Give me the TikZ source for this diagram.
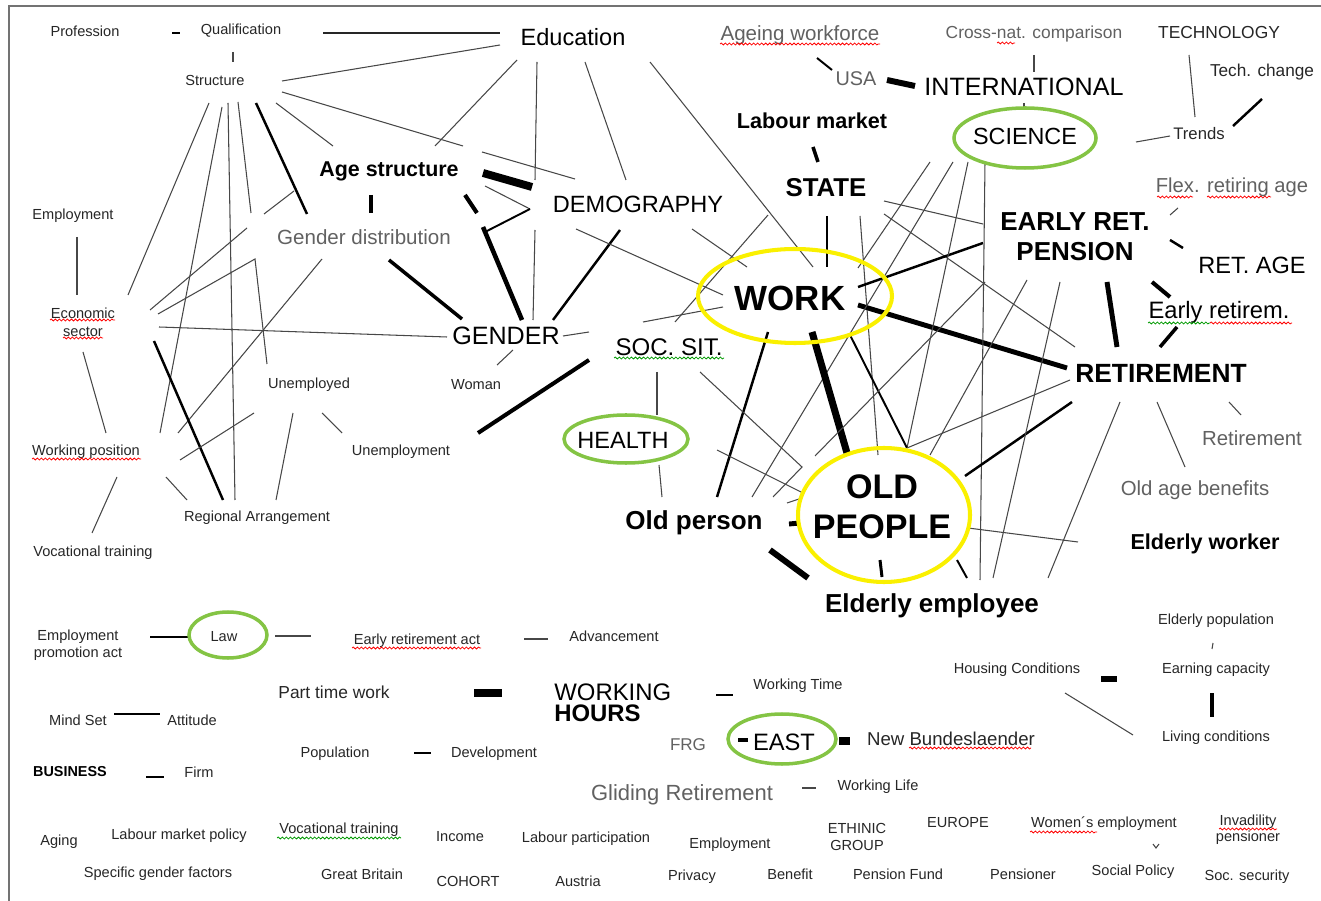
\documentclass[tikz,border=0pt]{standalone}
\usepackage{fontspec}
\setmainfont{Liberation Sans}
\usetikzlibrary{decorations.pathmorphing}
\definecolor{amarillo}{RGB}{250,240,0}
\definecolor{verde}{RGB}{132,196,68}
\tikzset{
  lbl/.style={font=\fontsize{#1}{#1}\selectfont, inner sep=0pt, text=black!85},
  lbln/.style={font=\fontsize{#1}{#1}\selectfont, inner sep=0pt, text=black},
  lblg/.style={font=\fontsize{#1}{#1}\selectfont, inner sep=0pt, text=black!62},
  lblb/.style={font=\fontsize{#1}{#1}\selectfont\bfseries, inner sep=0pt, text=black},
  raya/.style={line width=0.6pt, draw=black!72},
  barra/.style={line width=#1, draw=black},
  aroam/.style={draw=amarillo, line width=2.3pt},
  arove/.style={draw=verde, line width=2pt},
  onda/.style={draw=#1, line width=0.45pt, decorate,
    decoration={snake, amplitude=0.55pt, segment length=2.3pt}}
}
\begin{document}
\begin{tikzpicture}[x=0.02cm, y=-0.02cm]
	\useasboundingbox (0,0) rectangle (1321,901);
	% marco
	\draw[black!55, line width=0.9pt] (9,901) -- (9,6) -- (1321,6);

	% lineas de Structure y Education
	\draw[barra=1.1pt] (172,33) -- (180,33);
	\draw[raya, black!85] (323,33) -- (500,33);
	\draw[raya] (233,52) -- (233,62);
	\draw[raya] (282,81) -- (500,45);
	\draw[raya] (517,60) -- (435,146);
	\draw[raya] (282,92) -- (463,146);
	\draw[raya] (482,152) -- (575,179);
	\draw[raya] (209,103) -- (128,295);
	\draw[raya] (222,107) -- (160,433);
	\draw[raya] (228,103) -- (235,500);
	\draw[raya] (238,102) -- (251,213);
	\draw[raya] (158,314) -- (255,259) -- (267,364);
	\draw[barra=1.4pt] (256,103) -- (307,214);
	\draw[raya] (276,103) -- (333,146);
	\draw[raya] (264,214) -- (294,191);
	\draw[raya] (247,228) -- (150,310);
	\draw[raya] (322,259) -- (178,433);
	\draw[raya] (159,327) -- (447,337);
	\draw[barra=1.4pt] (154,341) -- (223,500);
	\draw[raya] (180,460) -- (254,413);
	\draw[raya] (166,477) -- (187,500);
	\draw[raya] (293,413) -- (276,500);
	\draw[raya] (322,413) -- (342,433);
	\draw[raya] (77,237) -- (77,295); % Employment
	\draw[raya] (83,352) -- (106,433);
	\draw[raya] (117,477) -- (92,533);

	% GENDER, Age structure, DEMOGRAPHY
	\draw[raya] (513,350) -- (497,365);
	\draw[raya] (563,336) -- (589,332);
	\draw[barra=2.3pt] (478,433) -- (589,360);
	\draw[barra=2pt] (389,260) -- (462,319);
	\draw[barra=2.3pt] (371,195) -- (371,213);
	\draw[barra=2.3pt] (465,195) -- (477,213);
	\draw[barra=2.6pt] (483,227) -- (522,320);
	\draw[barra=4.5pt] (483,173) -- (532,187);
	\draw[raya] (485,186) -- (530,209);
	\draw[barra=1.1pt] (530,209) -- (485,232);
	\draw[raya] (537,62) -- (535,180);
	\draw[raya] (535,230) -- (533,320);
	\draw[raya] (585,62) -- (626,180);
	\draw[raya] (650,62) -- (813,267);
	\draw[barra=1.4pt] (620,230) -- (553,320);
	\draw[raya] (576,229) -- (723,295);
	\draw[raya] (692,229) -- (747,267);
	\draw[raya] (768,215) -- (675,322);
	\draw[raya] (643,322) -- (723,307);

	% WORK, STATE, SCIENCE
	\draw[barra=2pt] (813,147) -- (818,162);
	\draw[barra=1.4pt] (827,216) -- (827,267);
	\draw[raya] (860,216) -- (878,455);
	\draw[raya] (884,201) -- (983,224);
	\draw[raya] (884,214) -- (1075,347);
	\draw[barra=1.4pt] (858,287) -- (983,243);
	\draw[barra=2.8pt] (858,305) -- (1067,368);
	\draw[raya] (930,162) -- (858,268);
	\draw[raya] (953,162) -- (752,497);
	\draw[raya] (968,162) -- (907,448);
	\draw[raya] (985,162) -- (980,580);
	\draw[barra=1.4pt] (768,332) -- (717,497);
	\draw[barra=4pt] (812,332) -- (847,453);
	\draw[barra=1.1pt] (850,335) -- (907,448);
	\draw[raya] (907,448) -- (1070,380);
	\draw[barra=1.4pt] (965,476) -- (1072,402);
	\draw[raya] (968,528) -- (1078,542);
	\draw[barra=1.7pt] (880,560) -- (882,577);
	\draw[barra=1.1pt] (957,560) -- (967,578);
	\draw[raya] (1060,282) -- (993,578);
	\draw[raya] (1120,402) -- (1048,578);
	\draw[raya] (1027,280) -- (930,455);
	\draw[raya] (815,456) -- (985,282);
	\draw[raya] (700,372) -- (802,467) -- (773,497);
	\draw[raya] (717,450) -- (803,493);
	\draw[raya] (787,503) -- (802,498);

	% HEALTH y Old person
	\draw[raya] (657,372) -- (657,415);
	\draw[raya] (659,465) -- (662,497);
	\draw[barra=2.8pt] (789,524) -- (800,523);
	\draw[barra=3.4pt] (770,550) -- (808,578);

	% RETIREMENT y EARLY RET.
	\draw[barra=2.8pt] (1107,282) -- (1117,347);
	\draw[barra=2.3pt] (1152,282) -- (1170,297);
	\draw[barra=2pt] (1177,327) -- (1160,347);
	\draw[raya] (1170,215) -- (1178,208);
	\draw[barra=1.4pt] (1170,240) -- (1183,248);
	\draw[raya] (1157,402) -- (1185,467);
	\draw[raya] (1229,402) -- (1241,415);

	% INTERNATIONAL y TECHNOLOGY
	\draw[raya] (1024,103) -- (1024,110);
	\draw[raya] (1034,55) -- (1034,72);
	\draw[raya] (1189,55) -- (1195,117);
	\draw[barra=1.4pt] (1262,99) -- (1233,126);
	\draw[raya] (1136,142) -- (1170,136);
	\draw[barra=3.4pt] (887,80) -- (915,86);
	\draw[barra=1.1pt] (817,58) -- (832,70);

	% parte de abajo
	\draw[barra=1.4pt] (150,637) -- (189,637);
	\draw[raya] (275,636) -- (311,636);
	\draw[raya] (524,639) -- (548,639);
	\draw[barra=4.5pt] (474,693) -- (502,693);
	\draw[barra=1.1pt] (114,714) -- (160,714);
	\draw[barra=1.7pt] (414,753) -- (431,753);
	\draw[barra=1.7pt] (146,777) -- (164,777);
	\draw[barra=1.4pt] (716,695) -- (733,695);
	\draw[barra=2.8pt] (738,740) -- (748,740);
	\draw[barra=4pt] (839,741) -- (850,741);
	\draw[raya] (802,788) -- (816,788);
	\draw[barra=3.4pt] (1101,679) -- (1117,679);
	\draw[raya] (1065,693) -- (1133,735);
	\draw[raya] (1213,643) -- (1212,649);
	\draw[barra=2.3pt] (1212,693) -- (1212,717);
	\draw[raya] (1153,844) -- (1156,848) -- (1159,844);

	% elipses
	\draw[aroam] (795,296) ellipse [x radius=97, y radius=47]; % WORK
	\draw[aroam] (884,515) ellipse [x radius=86, y radius=67]; % OLD PEOPLE
	\draw[arove] (1025,138) ellipse [x radius=71, y radius=30]; % SCIENCE
	\draw[arove] (626,439) ellipse [x radius=62, y radius=24]; % HEALTH
	\draw[arove] (228,635) ellipse [x radius=39, y radius=23]; % Law
	\draw[arove] (782,739) ellipse [x radius=54, y radius=25]; % EAST

	% textos de arriba
	\node[lbl=8.3] (profession) at (85,31) {Profession};
	\node[lbl=8.3] (qualification) at (241,31) {Qualification};
	\node[lbln=13.4] (education) at (573,37) {Education};
	\node[lblg=11.7] (ageing) at (800,35) {Ageing workforce};
	\node[lblg=9.9] (crossnat) at (1034,34) {Cross-nat. comparison};
	\node[lbl=9.9] (technology) at (1219,33) {TECHNOLOGY};
	\node[lbl=8.3] (structure) at (215,80) {Structure};
	\node[lblg=11.3] (usa) at (856,79) {USA};
	\node[lbln=14.3] (international) at (1024,87) {INTERNATIONAL};
	\node[lbl=9.8] (techchange) at (1262,72) {Tech. change};
	\node[lblb=12.3] (labour) at (812,121) {Labour market};
	\node[lbln=13.3] (science) at (1025,136) {SCIENCE};
	\node[lbl=9.5] (trends) at (1199,134) {Trends};
	\node[lblb=12.2] (agestruct) at (389,171) {Age structure};
	\node[lblb=14.7] (state) at (826,188) {STATE};
	\node[lblg=11.5] (flex) at (1232,187) {Flex. retiring age};
	\node[lbln=13.4] (demography) at (638,204) {DEMOGRAPHY};
	\node[lbl=8.3] (employment) at (73,216) {Employment};
	\node[lblg=11.7] (genderdist) at (364,237) {Gender distribution};
	\node[lblb=14.8, font=\fontsize{14.8}{17}\selectfont\bfseries, align=center] (earlyret) at (1075,237) {EARLY RET.\\PENSION};
	\node[lbln=13.4] (retage) at (1252,265) {RET. AGE};

	% textos del centro
	\node[lblb=19.9] (work) at (790,298) {WORK};
	\node[lbl=8.3, font=\fontsize{8.3}{10.2}\selectfont, align=center] (econsector) at (83,322) {Economic\\sector};
	\node[lbln=13.5] (earlyretirem) at (1219,312) {Early retirem.};
	\node[lbln=14.3] (gender) at (506,336) {GENDER};
	\node[lbln=13.7] (socsit) at (669,347) {SOC. SIT.};
	\node[lblb=15] (retirement) at (1161,373) {RETIREMENT};
	\node[lbl=8.3] (unemployed) at (309,385) {Unemployed};
	\node[lbl=8.3] (woman) at (476,385) {Woman};
	\node[lblg=11.6] (retirementsm) at (1252,438) {Retirement};
	\node[lbln=13.4] (health) at (623,440) {HEALTH};
	\node[lbl=8.3] (workpos) at (86,452) {Working position};
	\node[lbl=8.3] (unemployment) at (401,452) {Unemployment};
	\node[lblb=19.4, font=\fontsize{19.4}{22.7}\selectfont\bfseries, align=center] (oldpeople) at (882,507) {OLD\\PEOPLE};
	\node[lblg=11.6] (oldage) at (1195,490) {Old age benefits};
	\node[lblb=14.8] (oldperson) at (694,523) {Old person};
	\node[lbl=8.3] (regional) at (257,518) {Regional Arrangement};
	\node[lblb=12.3] (elderlyworker) at (1205,544) {Elderly worker};
	\node[lbl=8.3] (voctrain) at (93,553) {Vocational training};
	\node[lblb=14.8] (elderlyemp) at (932,606) {Elderly employee};

	% textos de abajo
	\node[lbl=8.3] (elderlypop) at (1216,621) {Elderly population};
	\node[lbl=8.3, font=\fontsize{8.3}{9.6}\selectfont, align=center] (emppromo) at (78,645) {Employment\\promotion act};
	\node[lbl=8.3] (law) at (224,637) {Law};
	\node[lbl=8.3] (earlyretact) at (417,641) {Early retirement act};
	\node[lbl=8.3] (advancement) at (614,636) {Advancement};
	\node[lbl=8.3] (housing) at (1017,670) {Housing Conditions};
	\node[lbl=8.3] (earning) at (1216,670) {Earning capacity};
	\node[lbl=9.9] (parttime) at (334,692) {Part time work};
	\node[lbln=13.6, font=\fontsize{13.6}{12.2}\selectfont, anchor=west, align=left] (workinghours) at (554,703) {WORKING\\{\bfseries HOURS}};
	\node[lbl=8.3] (workingtime) at (798,686) {Working Time};
	\node[lbl=8.3] (mindset) at (78,720) {Mind Set};
	\node[lbl=8.3] (attitude) at (192,720) {Attitude};
	\node[lbl=8.3] (living) at (1216,738) {Living conditions};
	\node[lbl=8.3] (population) at (335,754) {Population};
	\node[lbl=8.3] (development) at (494,754) {Development};
	\node[lblg=9.7] (frg) at (688,745) {FRG};
	\node[lbln=13.5] (east) at (784,742) {EAST};
	\node[lbl=10.6] (newbund) at (951,739) {New Bundeslaender};
	\node[lblb=8.2] (business) at (70,772) {BUSINESS};
	\node[lbl=8.3] (firm) at (199,772) {Firm};
	\node[lblg=12.5] (gliding) at (682,795) {Gliding Retirement};
	\node[lbl=8.3] (workinglife) at (878,787) {Working Life};
	\node[lbl=8.3] (aging) at (59,842) {Aging};
	\node[lbl=8.3] (lmpolicy) at (179,836) {Labour market policy};
	\node[lbl=8.3] (voctrainb) at (339,830) {Vocational training};
	\node[lbl=8.3] (income) at (460,837) {Income};
	\node[lbl=8.3] (labourpart) at (586,839) {Labour participation};
	\node[lbl=8.3] (employmentb) at (730,845) {Employment};
	\node[lbl=8.3, font=\fontsize{8.3}{10.2}\selectfont, align=center] (ethnic) at (857,837) {ETHINIC\\GROUP};
	\node[lbl=8.3] (europe) at (958,822) {EUROPE};
	\node[lbl=8.3] (womens) at (1104,824) {Women´s employment};
	\node[lbl=8.3, font=\fontsize{8.3}{9.3}\selectfont, align=center] (invalid) at (1248,830) {Invadility\\pensioner};
	\node[lbl=8.3] (specific) at (158,874) {Specific gender factors};
	\node[lbl=8.3] (greatbritain) at (362,874) {Great Britain};
	\node[lbl=8.3] (cohort) at (468,881) {COHORT};
	\node[lbl=8.3] (austria) at (578,881) {Austria};
	\node[lbl=8.3] (privacy) at (692,877) {Privacy};
	\node[lbl=8.3] (benefit) at (790,874) {Benefit};
	\node[lbl=8.3] (pensionfund) at (898,874) {Pension Fund};
	\node[lbl=8.3] (pensioner) at (1023,874) {Pensioner};
	\node[lbl=8.3] (socialpolicy) at (1133,872) {Social Policy};
	\node[lbl=8.3] (socsecurity) at (1247,877) {Soc. security};

	% subrayados de ortografia
	\draw[onda=red] (720,44) -- (880,44);
	\draw[onda=red] (997,43) -- (1015,43);
	\draw[onda=red] (1157,197) -- (1193,197);
	\draw[onda=red] (1207,197) -- (1271,197);
	\draw[onda=red] (50,320) -- (115,320);
	\draw[onda=red] (63,338) -- (103,338);
	\draw[onda=green!60!black] (1148,323) -- (1210,323);
	\draw[onda=red] (1210,323) -- (1292,323);
	\draw[onda=green!60!black] (614,358) -- (724,358);
	\draw[onda=red] (32,459) -- (141,459);
	\draw[onda=red] (352,648) -- (481,648);
	\draw[onda=red] (909,748) -- (1031,748);
	\draw[onda=green!60!black] (277,838) -- (401,838);
	\draw[onda=red] (1030,832) -- (1097,832);
	\draw[onda=red] (1219,829) -- (1277,829);
\end{tikzpicture}
\end{document}
